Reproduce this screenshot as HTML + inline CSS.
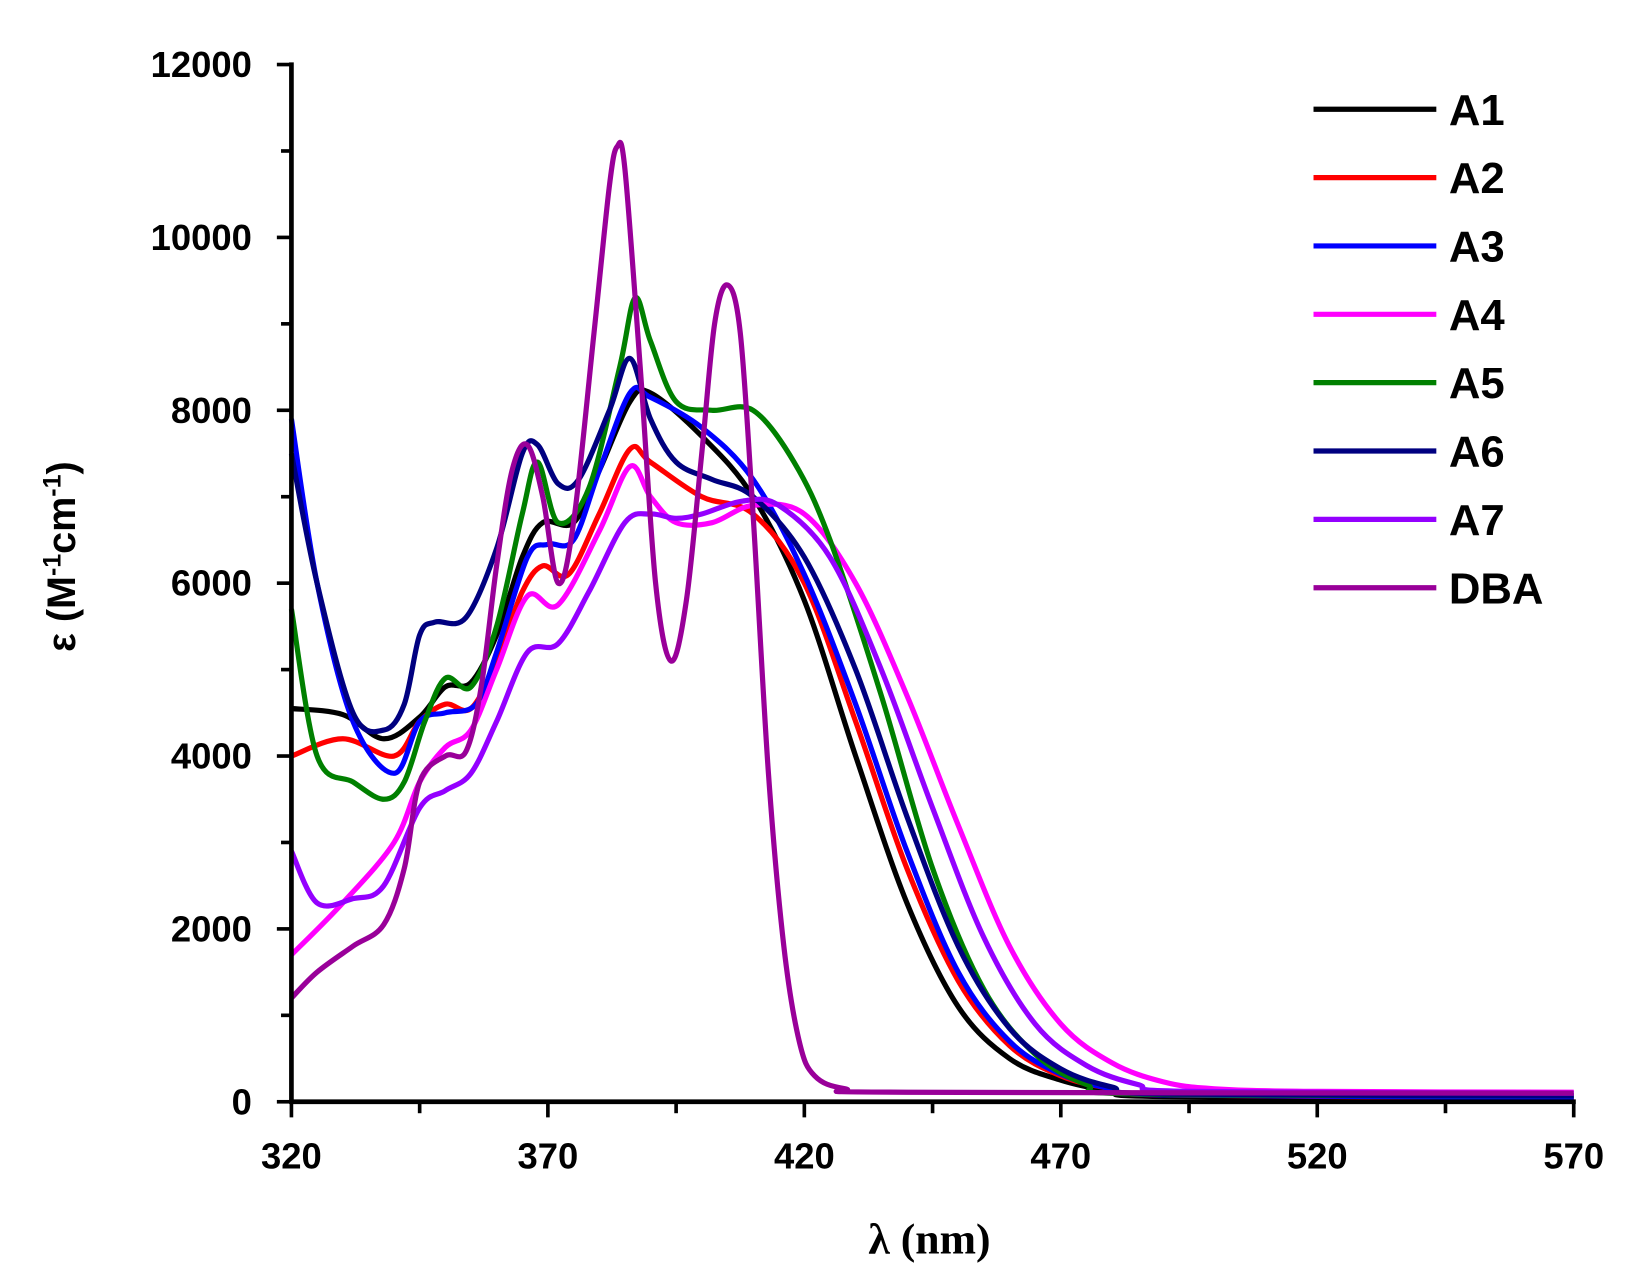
<!DOCTYPE html>
<html><head><meta charset="utf-8"><style>
html,body{margin:0;padding:0;background:#fff;}
svg{display:block;}
text{font-family:"Liberation Sans",Arial,sans-serif;font-weight:bold;}
</style></head><body>
<svg id="s" width="1632" height="1288" viewBox="0 0 1568 1238" preserveAspectRatio="none" xmlns="http://www.w3.org/2000/svg">
<rect width="1568" height="1238" fill="#fff"/>
<g id="curves" fill="none" stroke-width="5" stroke-linejoin="round"></g>
<g stroke="#000" stroke-width="4.5" fill="none">
<line x1="280" y1="60" x2="280" y2="1061"/>
<line x1="278" y1="1059" x2="1514" y2="1059"/>
</g>
<g id="ticks" stroke="#000" stroke-width="3.5"></g>
<g id="labels" font-size="35" fill="#000"></g>
<g id="legend"></g>
<text x="893" y="1205" font-size="42" text-anchor="middle" style="font-family:'Liberation Serif',serif">λ (nm)</text>
<text transform="translate(72,535) rotate(-90)" font-size="38" text-anchor="middle">ε (M<tspan font-size="24" dy="-14">-1</tspan><tspan dy="14">cm</tspan><tspan font-size="24" dy="-14">-1</tspan><tspan dy="14">)</tspan></text>
</svg>
<script>
var X=function(n){return 280+(n-320)*4.928;},Y=function(v){return 1059-v*0.08308;};
var NS="http://www.w3.org/2000/svg";
function el(t,a,p){var e=document.createElementNS(NS,t);for(var k in a)e.setAttribute(k,a[k]);p.appendChild(e);return e;}
var tk=document.getElementById('ticks'),lb=document.getElementById('labels');
for(var v=0;v<=12000;v+=1000){var y=Y(v);el('line',{x1:v%2000?270:266,y1:y,x2:280,y2:y},tk);
 if(v%2000==0){var t=el('text',{x:242,y:y+12,'text-anchor':'end'},lb);t.textContent=v;}}
for(var n=320;n<=570;n+=25){var x=X(n),maj=((n-320)%50==0);el('line',{x1:x,y1:1059,x2:x,y2:maj?1074:1070},tk);
 if(maj){var t=el('text',{x:x,y:1123,'text-anchor':'middle'},lb);t.textContent=n;}}
var D={
A1:["#000",[[320,4550],[330,4480],[338,4200],[345,4450],[350,4800],[355,4850],[360,5400],[365,6300],[369,6700],[375,6700],[380,7300],[386,8100],[390,8200],[400,7700],[410,7000],[420,5800],[430,4000],[440,2300],[450,1100],[460,500],[470,250],[480,120],[490,60],[570,30]]],
A2:["#f00",[[320,4000],[330,4200],[340,4000],[345,4400],[350,4600],[355,4550],[360,5100],[365,5900],[369,6200],[374,6100],[380,6800],[386,7550],[390,7400],[400,7000],[410,6800],[420,6000],[430,4400],[440,2700],[450,1400],[460,650],[470,300],[480,150],[490,80],[570,40]]],
A3:["#00f",[[320,7900],[325,6000],[332,4400],[340,3800],[345,4400],[350,4500],[356,4600],[360,5200],[366,6300],[370,6450],[375,6500],[380,7300],[386,8200],[390,8150],[400,7800],[410,7200],[420,6100],[430,4600],[440,2900],[450,1500],[460,700],[470,320],[480,150],[490,80],[570,50]]],
A4:["#f0f",[[320,1700],[330,2300],[340,3000],[345,3700],[350,4100],[355,4300],[360,5000],[366,5850],[372,5750],[380,6600],[386,7350],[390,7000],[395,6700],[402,6700],[410,6900],[420,6800],[430,6000],[440,4700],[450,3200],[460,1800],[470,900],[480,450],[490,230],[500,150],[520,120],[570,110]]],
A5:["#008000",[[320,5700],[325,4000],[332,3700],[338,3500],[342,3700],[346,4400],[350,4900],[355,4800],[360,5500],[365,6800],[368,7400],[372,6700],[378,7100],[384,8500],[387,9300],[390,8800],[395,8100],[402,8000],[410,8000],[418,7400],[425,6500],[435,4700],[445,2700],[455,1300],[465,550],[475,200],[485,90],[570,70]]],
A6:["#000080",[[320,7500],[325,6000],[332,4500],[338,4300],[342,4600],[345,5400],[348,5550],[354,5600],[360,6400],[365,7500],[368,7600],[372,7150],[376,7200],[382,8000],[386,8600],[390,7900],[395,7400],[402,7200],[410,7000],[420,6300],[430,5000],[440,3300],[450,1800],[460,850],[470,380],[480,170],[490,90],[570,70]]],
A7:["#9400ff",[[320,2900],[325,2300],[332,2350],[338,2500],[345,3400],[350,3600],[355,3800],[360,4400],[366,5200],[372,5300],[378,5900],[385,6700],[390,6800],[395,6750],[400,6800],[408,6950],[415,6900],[425,6300],[435,5000],[445,3400],[455,1900],[465,900],[475,420],[485,200],[495,120],[570,100]]],
DBA:["#990099",[[320,1200],[325,1500],[332,1800],[338,2050],[342,2700],[345,3700],[350,4000],[354,4050],[357,4800],[360,6200],[363,7300],[366,7600],[369,7000],[372,6000],[375,6700],[379,8900],[382,10600],[383.5,11050],[385,10800],[388,8500],[391,6000],[394,5100],[397,5800],[400,7500],[402.5,9000],[405,9450],[407.5,8900],[410,6800],[413,3800],[416,1800],[419,700],[422,300],[428,150],[440,110],[570,100]]]};
var cg=document.getElementById('curves'),lg=document.getElementById('legend'),i=0;
for(var k in D){var c=D[k][0],p=D[k][1].map(function(q){return [X(q[0]),Y(q[1])];});
 var d="M"+p[0][0]+","+p[0][1];
 for(var j=0;j<p.length-1;j++){var p0=p[j-1]||p[j],p1=p[j],p2=p[j+1],p3=p[j+2]||p2;
  d+=" C"+(p1[0]+(p2[0]-p0[0])/6)+","+(p1[1]+(p2[1]-p0[1])/6)+" "+(p2[0]-(p3[0]-p1[0])/6)+","+(p2[1]-(p3[1]-p1[1])/6)+" "+p2[0]+","+p2[1];}
 el('path',{d:d,stroke:c},cg);
 var ly=105+i*65.7;el('line',{x1:1262,y1:ly,x2:1380,y2:ly,stroke:c,'stroke-width':5},lg);
 var t=el('text',{x:1392,y:ly+15,'font-size':42,fill:'#000'},lg);t.textContent=k;i++;}
</script>
</body></html>
